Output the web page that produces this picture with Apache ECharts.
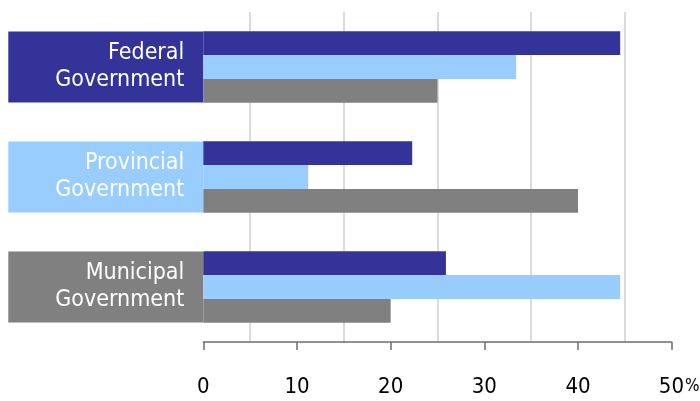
<!DOCTYPE html>
<html>
<head>
<meta charset="utf-8">
<script src="https://cdn.jsdelivr.net/npm/echarts@6/dist/echarts.min.js"></script>
<style>
html,body{margin:0;padding:0;background:#fff;}
#chart{width:700px;height:401px;}
</style>
</head>
<body>
<div id="chart"></div>
<script>
var categories = ['Federal\nGovernment', 'Provincial\nGovernment', 'Municipal\nGovernment'];
var seriesNames = ['Series 1', 'Series 2', 'Series 3'];
var darkBlueValues = [44.5, 22.3, 25.9];
var lightBlueValues = [33.4, 11.2, 44.5];
var grayValues = [25.0, 40.0, 20.0];
var xTickMin = 0, xTickMax = 50, xTickStep = 10;
var unitLabel = '%';

var colors = ['#333399', '#99CCFF', '#808080'];
var labelFont = '"DejaVu Sans Condensed", "DejaVu Sans", sans-serif';
var tickFont = '"Liberation Sans Narrow", "DejaVu Sans Condensed", sans-serif';

var chart = echarts.init(document.getElementById('chart'), null, {renderer: 'canvas'});
var yData = categories.map(function (c, i) {
  return {
    value: c,
    textStyle: {
      backgroundColor: colors[i],
      color: '#ffffff',
      fontFamily: labelFont,
      fontSize: 23,
      lineHeight: 27,
      align: 'right',
      width: 176,
      height: 54,
      padding: [9, 19, 8, 0]
    }
  };
});
chart.setOption({
  animation: false,
  grid: {left: 203.3, right: 28.3, top: 12, bottom: 59, containLabel: false, outerBoundsMode: 'none'},
  xAxis: {
    type: 'value',
    min: xTickMin, max: xTickMax, interval: xTickStep,
    position: 'bottom',
    axisLine: {show: true, lineStyle: {color: '#6e6e6e', width: 1.5}},
    axisTick: {show: true, length: 8, lineStyle: {color: '#6e6e6e', width: 1.5}},
    axisLabel: {
      fontFamily: tickFont, fontSize: 22, color: '#000', margin: 34,
      formatter: function (v) {
        return v === xTickMax ? '{n2|' + v + '}{p|' + unitLabel + '}' : String(v);
      },
      rich: {
        n2: {fontFamily: tickFont, fontSize: 22, color: '#000', padding: [0, 0, 0, 15]},
        p: {fontFamily: tickFont, fontSize: 17, color: '#000', padding: [0, 0, 0, 1]}
      }
    },
    splitLine: {show: false},
    minorTick: {show: false, splitNumber: 2},
    minorSplitLine: {show: true, lineStyle: {color: '#cfcfcf', width: 1.5}}
  },
  yAxis: {
    type: 'category',
    inverse: true,
    data: yData,
    axisLine: {show: false},
    axisTick: {show: false},
    axisLabel: {margin: 0}
  },
  series: [
    {name: seriesNames[0], type: 'bar', data: darkBlueValues, itemStyle: {color: colors[0]}, barGap: '0%', barCategoryGap: '35%'},
    {name: seriesNames[1], type: 'bar', data: lightBlueValues, itemStyle: {color: colors[1]}, barGap: '0%', barCategoryGap: '35%'},
    {name: seriesNames[2], type: 'bar', data: grayValues, itemStyle: {color: colors[2]}, barGap: '0%', barCategoryGap: '35%'}
  ]
});
</script>
</body>
</html>
